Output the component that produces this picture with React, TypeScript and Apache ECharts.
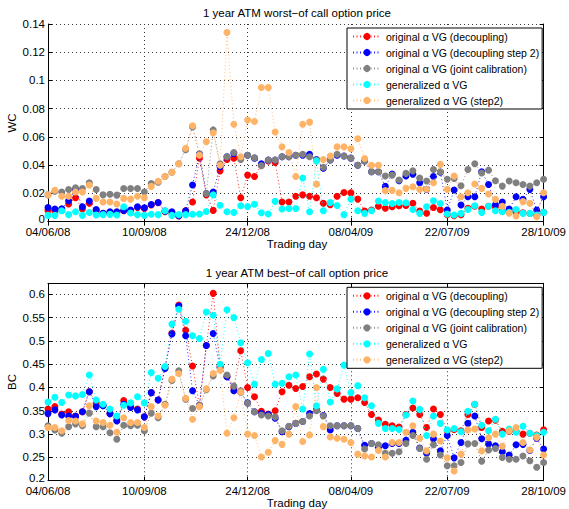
import { useEffect, useRef } from 'react';
import * as echarts from 'echarts';

const DATES = [
  '04/06/08', '11/06/08', '18/06/08', '25/06/08', '02/07/08', '09/07/08', '16/07/08', '23/07/08', '30/07/08', '06/08/08',
  '13/08/08', '20/08/08', '27/08/08', '03/09/08', '10/09/08', '17/09/08', '24/09/08', '01/10/08', '08/10/08', '15/10/08',
  '22/10/08', '29/10/08', '05/11/08', '12/11/08', '19/11/08', '26/11/08', '03/12/08', '10/12/08', '17/12/08', '24/12/08',
  '31/12/08', '07/01/09', '14/01/09', '21/01/09', '28/01/09', '04/02/09', '11/02/09', '18/02/09', '25/02/09', '04/03/09',
  '11/03/09', '18/03/09', '25/03/09', '01/04/09', '08/04/09', '22/04/09', '29/04/09', '06/05/09', '13/05/09', '20/05/09',
  '27/05/09', '03/06/09', '10/06/09', '17/06/09', '24/06/09', '01/07/09', '08/07/09', '15/07/09', '22/07/09', '29/07/09',
  '05/08/09', '12/08/09', '19/08/09', '26/08/09', '02/09/09', '09/09/09', '16/09/09', '23/09/09', '30/09/09', '07/10/09',
  '14/10/09', '21/10/09', '28/10/09',
];

const TICK_LABELS = ['04/06/08', '10/09/08', '24/12/08', '08/04/09', '22/07/09', '28/10/09'];

const SERIES_NAMES = [
  'original α VG (decoupling)',
  'original α VG (decoupling step 2)',
  'original α VG (joint calibration)',
  'generalized α VG',
  'generalized α VG (step2)',
];

const COLORS = ['#ff0000', '#0000ff', '#808080', '#00ffff', '#ffb366'];

// ---- worst-of (WC) ----
const WC_ORIG_DEC = [
  0.008, 0.0078, 0.008, 0.0125, 0.017, 0.009, 0.013, 0.008, 0.006, 0.0065,
  0.0066, 0.0078, 0.007, 0.010, 0.0094, 0.0118, 0.0134, 0.007, 0.006, 0.004,
  0.0078, 0.014, 0.045, 0.019, 0.008, 0.036, 0.044, 0.045, 0.017, 0.033,
  0.032, 0.040, 0.043, 0.042, 0.014, 0.014, 0.018, 0.019, 0.018, 0.017,
  0.013, 0.012, 0.018, 0.0207, 0.0204, 0.016, 0.0075, 0.0082, 0.011, 0.0095,
  0.0106, 0.0113, 0.0115, 0.013, 0.0075, 0.006, 0.010, 0.0085, 0.005, 0.0042,
  0.005, 0.0095, 0.011, 0.009, 0.011, 0.0105, 0.0075, 0.0072, 0.0068, 0.0063,
  0.0058, 0.0045, 0.0066,
];
const WC_ORIG_DEC2 = [
  0.010, 0.009, 0.0092, 0.0148, 0.023, 0.0106, 0.0146, 0.0087, 0.006, 0.007,
  0.007, 0.008, 0.0082, 0.0106, 0.0099, 0.0122, 0.0136, 0.0075, 0.007, 0.0042,
  0.0078, 0.026, 0.048, 0.020, 0.021, 0.039, 0.046, 0.0484, 0.0455, 0.047,
  0.045, 0.041, 0.0437, 0.0437, 0.046, 0.046, 0.047, 0.047, 0.0477, 0.044,
  0.0378, 0.0437, 0.047, 0.0465, 0.045, 0.040, 0.043, 0.0354, 0.0354, 0.025,
  0.0337, 0.029, 0.0323, 0.0337, 0.0276, 0.0229, 0.032, 0.035, 0.0083, 0.0224,
  0.0118, 0.0177, 0.0177, 0.0354, 0.0264, 0.012, 0.014, 0.009, 0.0177, 0.0158,
  0.0229, 0.0083, 0.0177,
];
const WC_ORIG_JOINT = [
  0.019, 0.0215, 0.021, 0.0228, 0.024, 0.0235, 0.0275, 0.0228, 0.019, 0.0195,
  0.0188, 0.0235, 0.0235, 0.0235, 0.021, 0.027, 0.028, 0.032, 0.035, 0.041,
  0.051, 0.067, 0.048, 0.020, 0.065, 0.041, 0.046, 0.049, 0.044, 0.047,
  0.0453, 0.0397, 0.0437, 0.0437, 0.046, 0.046, 0.047, 0.0477, 0.046, 0.0437,
  0.0385, 0.0437, 0.0477, 0.0465, 0.045, 0.040, 0.043, 0.0354, 0.0354, 0.0323,
  0.033, 0.0295, 0.0342, 0.036, 0.031, 0.0288, 0.037, 0.0354, 0.030, 0.0306,
  0.0255, 0.037, 0.041, 0.0345, 0.0365, 0.029, 0.0252, 0.0288, 0.0276, 0.0264,
  0.0252, 0.0276, 0.030,
];
const WC_GEN = [
  0.0045, 0.0045, 0.0077, 0.005, 0.007, 0.0045, 0.0065, 0.0047, 0.005, 0.0052,
  0.0047, 0.0106, 0.0062, 0.005, 0.0045, 0.0053, 0.005, 0.0077, 0.0045, 0.005,
  0.005, 0.0053, 0.0054, 0.0072, 0.019, 0.0117, 0.007, 0.0066, 0.0113, 0.0108,
  0.0124, 0.0064, 0.0054, 0.0144, 0.009, 0.0094, 0.0094, 0.031, 0.007, 0.043,
  0.0078, 0.0135, 0.0115, 0.005, 0.016, 0.0078, 0.0059, 0.0078, 0.0146, 0.0136,
  0.0129, 0.0136, 0.0134, 0.0087, 0.0059, 0.0106, 0.0148, 0.0129, 0.0054, 0.0047,
  0.0059, 0.0087, 0.0113, 0.0066, 0.011, 0.0078, 0.007, 0.0066, 0.0087, 0.0059,
  0.0059, 0.0047, 0.0066,
];
const WC_GEN_STEP2 = [
  0.019, 0.0223, 0.018, 0.018, 0.021, 0.021, 0.026, 0.0165, 0.014, 0.014,
  0.0125, 0.0165, 0.016, 0.018, 0.017, 0.025, 0.0287, 0.032, 0.035, 0.041,
  0.052, 0.068, 0.047, 0.0566, 0.063, 0.040, 0.134, 0.069, 0.046, 0.072,
  0.071, 0.095, 0.095, 0.0635, 0.053, 0.049, 0.032, 0.069, 0.0705, 0.0265,
  0.044, 0.0465, 0.053, 0.053, 0.0517, 0.0588, 0.0448, 0.040, 0.040, 0.022,
  0.0222, 0.0205, 0.0236, 0.0248, 0.0229, 0.023, 0.0276, 0.0406, 0.0229, 0.0323,
  0.0177, 0.0205, 0.0267, 0.0236, 0.0196, 0.0158, 0.011, 0.006, 0.004, 0.0142,
  0.013, 0.0035, 0.0205,
];

// ---- best-of (BC) ----
const BC_ORIG_DEC = [
  0.354, 0.359, 0.343, 0.348, 0.339, 0.348, 0.391, 0.367, 0.362, 0.344,
  0.33, 0.372, 0.359, 0.354, 0.337, 0.389, 0.373, 0.443, 0.517, 0.577,
  0.523, 0.446, 0.361, 0.49, 0.602, 0.446, 0.423, 0.40, 0.479, 0.40,
  0.38, 0.349, 0.343, 0.35, 0.391, 0.405, 0.398, 0.402, 0.423, 0.429,
  0.418, 0.40, 0.387, 0.375, 0.375, 0.378, 0.368, 0.342, 0.33, 0.321,
  0.318, 0.315, 0.342, 0.356, 0.342, 0.314, 0.354, 0.342, 0.307, 0.31,
  0.307, 0.342, 0.364, 0.314, 0.328, 0.33, 0.306, 0.306, 0.306, 0.30,
  0.302, 0.298, 0.309,
];
const BC_ORIG_DEC2 = [
  0.344, 0.352, 0.341, 0.339, 0.338, 0.348, 0.391, 0.359, 0.361, 0.344,
  0.328, 0.364, 0.357, 0.352, 0.337, 0.389, 0.373, 0.441, 0.515, 0.575,
  0.511, 0.393, 0.362, 0.49, 0.516, 0.443, 0.423, 0.393, 0.39, 0.367,
  0.348, 0.344, 0.342, 0.334, 0.305, 0.316, 0.323, 0.327, 0.344, 0.352,
  0.34, 0.309, 0.318, 0.318, 0.318, 0.312, 0.276, 0.28, 0.272, 0.275,
  0.28, 0.28, 0.287, 0.304, 0.27, 0.259, 0.29, 0.264, 0.297, 0.249,
  0.282, 0.323, 0.339, 0.29, 0.279, 0.275, 0.262, 0.255, 0.277, 0.278,
  0.265, 0.291, 0.268,
];
const BC_ORIG_JOINT = [
  0.318, 0.309, 0.302, 0.316, 0.322, 0.318, 0.345, 0.316, 0.316, 0.303,
  0.289, 0.319, 0.318, 0.319, 0.307, 0.345, 0.335, 0.364, 0.415, 0.436,
  0.375, 0.355, 0.362, 0.395, 0.425, 0.443, 0.427, 0.403, 0.393, 0.366,
  0.348, 0.341, 0.339, 0.337, 0.307, 0.317, 0.323, 0.327, 0.339, 0.35,
  0.339, 0.318, 0.318, 0.318, 0.318, 0.312, 0.268, 0.28, 0.277, 0.259,
  0.259, 0.262, 0.28, 0.297, 0.269, 0.246, 0.277, 0.255, 0.232, 0.232,
  0.239, 0.279, 0.28, 0.242, 0.266, 0.269, 0.25, 0.246, 0.246, 0.253,
  0.243, 0.229, 0.239,
];
const BC_GEN = [
  0.369, 0.379, 0.368, 0.384, 0.382, 0.385, 0.427, 0.373, 0.364, 0.354,
  0.339, 0.362, 0.367, 0.38, 0.367, 0.432, 0.42, 0.445, 0.536, 0.568,
  0.542, 0.511, 0.505, 0.562, 0.555, 0.45, 0.567, 0.55, 0.496, 0.453,
  0.407, 0.46, 0.473, 0.407, 0.409, 0.423, 0.427, 0.354, 0.472, 0.361,
  0.439, 0.369, 0.397, 0.448, 0.389, 0.404, 0.378, 0.361, 0.323, 0.312,
  0.312, 0.31, 0.341, 0.371, 0.353, 0.297, 0.339, 0.323, 0.309, 0.312,
  0.305, 0.349, 0.364, 0.319, 0.307, 0.332, 0.30, 0.311, 0.304, 0.317,
  0.302, 0.297, 0.304,
];
const BC_GEN_STEP2 = [
  0.314, 0.314, 0.307, 0.329, 0.328, 0.322, 0.361, 0.328, 0.325, 0.319,
  0.304, 0.335, 0.325, 0.325, 0.314, 0.359, 0.339, 0.362, 0.418, 0.43,
  0.377, 0.332, 0.359, 0.397, 0.43, 0.437, 0.302, 0.335, 0.39, 0.3,
  0.297, 0.251, 0.261, 0.286, 0.278, 0.3, 0.359, 0.284, 0.298, 0.4,
  0.316, 0.294, 0.291, 0.289, 0.282, 0.257, 0.253, 0.251, 0.265, 0.251,
  0.282, 0.282, 0.304, 0.318, 0.291, 0.264, 0.30, 0.285, 0.249, 0.221,
  0.257, 0.309, 0.311, 0.264, 0.292, 0.30, 0.274, 0.307, 0.314, 0.282,
  0.266, 0.293, 0.255,
];

const WC_SERIES = [WC_ORIG_DEC, WC_ORIG_DEC2, WC_ORIG_JOINT, WC_GEN, WC_GEN_STEP2];
const BC_SERIES = [BC_ORIG_DEC, BC_ORIG_DEC2, BC_ORIG_JOINT, BC_GEN, BC_GEN_STEP2];

const FONT = '"Liberation Sans", Arial, Helvetica, sans-serif';

const showTick = (_i: number, v: string) => TICK_LABELS.includes(v);

const GRIDS = [
  { left: 48, top: 24, width: 498, height: 197.7 },
  { left: 48, top: 283.3, width: 498, height: 197.4 },
];

function xAxesFor(gridIndex: number) {
  const line = { show: true, lineStyle: { color: '#000', width: 1 } };
  return [
    {
      type: 'category', gridIndex, data: DATES, boundaryGap: false, position: 'bottom',
      axisLine: line,
      axisTick: { show: true, inside: true, length: 4, interval: showTick, lineStyle: { color: '#000' } },
      axisLabel: { show: true, interval: showTick, color: '#000', fontSize: 11.5, fontFamily: FONT, margin: 5, lineHeight: 11 },
      splitLine: { show: true, interval: showTick, lineStyle: { color: '#333', type: [1, 3], width: 1 } },
    },
    {
      type: 'category', gridIndex, data: DATES, boundaryGap: false, position: 'top',
      axisLine: line,
      axisTick: { show: true, inside: true, length: 4, interval: showTick, lineStyle: { color: '#000' } },
      axisLabel: { show: false },
      splitLine: { show: false },
    },
  ];
}

function yAxesFor(gridIndex: number, min: number, max: number, interval: number) {
  const line = { show: true, lineStyle: { color: '#000', width: 1 } };
  const fmt = (v: number) => {
    const k = (v - min) / interval;
    if (Math.abs(k - Math.round(k)) > 1e-6) return '';
    const s = String(+v.toFixed(2));
    // lift the lowest label a little so it does not collide with the first date
    return Math.round(k) === 0 ? `{lo|${s}}` : s;
  };
  return [
    {
      type: 'value', gridIndex, min, max, interval, position: 'left',
      axisLine: line,
      axisTick: { show: true, inside: true, length: 4, lineStyle: { color: '#000' } },
      axisLabel: {
        show: true, color: '#000', fontSize: 11.5, fontFamily: FONT, margin: 3, lineHeight: 8, formatter: fmt,
        rich: { lo: { color: '#000', fontSize: 11.5, fontFamily: FONT, lineHeight: 8, padding: [0, 0, 5, 0] } },
      },
      splitLine: { show: true, lineStyle: { color: '#333', type: [1, 3], width: 1 } },
    },
    {
      type: 'value', gridIndex, min, max, interval, position: 'right',
      axisLine: line,
      axisTick: { show: true, inside: true, length: 4, lineStyle: { color: '#000' } },
      axisLabel: { show: false },
      splitLine: { show: false },
    },
  ];
}

function seriesFor(values: number[][], axisIndex: number) {
  return values.map((data, i) => ({
    type: 'line',
    name: SERIES_NAMES[i],
    xAxisIndex: axisIndex,
    yAxisIndex: axisIndex,
    data,
    symbol: 'circle',
    symbolSize: 7,
    showSymbol: true,
    showAllSymbol: true,
    lineStyle: { color: COLORS[i], width: 1, type: [1, 2.5], opacity: 0.85 },
    itemStyle: { color: COLORS[i], borderWidth: 0 },
    emphasis: { disabled: true },
    silent: true,
    z: 2 + i * 0.01,
  }));
}

function legendAt(top: number) {
  return {
    data: SERIES_NAMES,
    orient: 'vertical',
    left: 347,
    top,
    itemWidth: 28,
    itemHeight: 9,
    itemGap: 4,
    padding: [2.5, 3, 2.5, 5],
    borderColor: '#000',
    borderWidth: 1,
    backgroundColor: '#fff',
    selectedMode: false,
    textStyle: { color: '#000', fontSize: 10.5, fontFamily: FONT, lineHeight: 12 },
  };
}

function textEl(text: string, x: number, y: number, rotation = 0) {
  return {
    type: 'text',
    x, y, rotation,
    silent: true,
    style: {
      text, x: 0, y: 0,
      align: 'center', verticalAlign: 'middle',
      textAlign: 'center', textVerticalAlign: 'middle',
      font: `11.5px ${FONT}`, fill: '#000',
    },
  };
}

export default function App() {
  const ref = useRef<HTMLDivElement>(null);
  useEffect(() => {
    if (!ref.current) return;
    const chart = echarts.init(ref.current, undefined, { renderer: 'svg' });
    chart.setOption({
      animation: false,
      backgroundColor: '#fff',
      grid: GRIDS,
      xAxis: [...xAxesFor(0), ...xAxesFor(1)],
      yAxis: [...yAxesFor(0, 0, 0.14, 0.02), ...yAxesFor(1, 0.2, 0.6236, 0.05)],
      legend: [legendAt(28), legendAt(287.3)],
      series: [...seriesFor(WC_SERIES, 0), ...seriesFor(BC_SERIES, 2)],
      graphic: [
        textEl('1 year ATM worst\u2212of call option price', 297, 13),
        textEl('Trading day', 297, 244),
        textEl('WC', 12, 123, Math.PI / 2),
        textEl('1 year ATM best\u2212of call option price', 297, 272.5),
        textEl('Trading day', 297, 503.3),
        textEl('BC', 12, 382, Math.PI / 2),
      ],
    });
    return () => chart.dispose();
  }, []);
  return (
    <div
      ref={ref}
      style={{ position: 'fixed', left: 0, top: 0, width: 569, height: 509, background: '#fff' }}
    />
  );
}
